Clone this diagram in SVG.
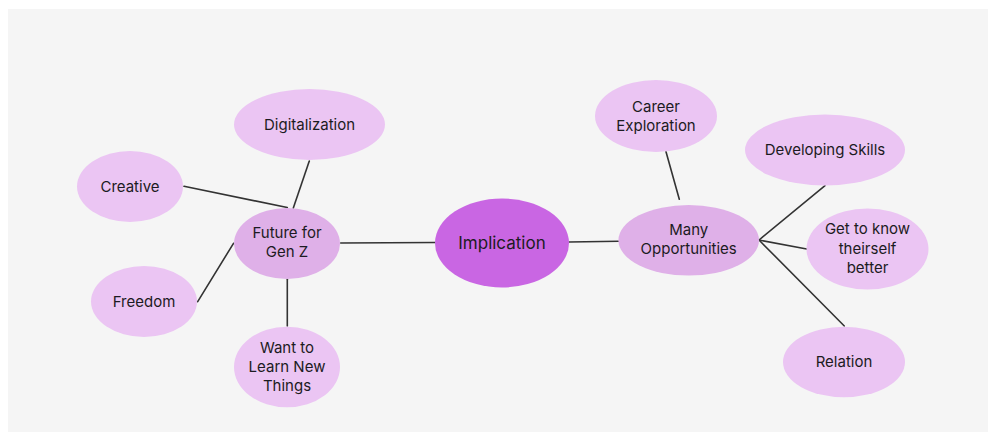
<svg xmlns="http://www.w3.org/2000/svg" width="988" height="433" viewBox="0 0 988 433">
<style>
.leaf{fill:#ebc5f3}
.mid{fill:#dfb0e8}
.root{fill:#c966e3}
text{font-family:Inter,"Liberation Sans",sans-serif;font-size:15px;fill:#1c1b22;text-anchor:middle}
.big{font-size:17px}
.conn line{stroke:#333;stroke-width:1.6;stroke-linecap:round}
</style>
<rect x="0" y="0" width="988" height="433" fill="#ffffff"/>
<rect x="8" y="9" width="980" height="423" fill="#f5f5f5"/>
<g id="connectors" class="conn">
<line x1="184" y1="186.3" x2="287.3" y2="207.5"/>
<line x1="309.3" y1="161" x2="293.3" y2="208"/>
<line x1="197.7" y1="301.7" x2="233.5" y2="243.3"/>
<line x1="287.3" y1="279.3" x2="287.3" y2="326"/>
<line x1="340.7" y1="243" x2="435" y2="242.5"/>
<line x1="569" y1="242" x2="618.5" y2="241.3"/>
<line x1="666" y1="151.7" x2="679.3" y2="199.3"/>
<line x1="759" y1="240" x2="825" y2="185.7"/>
<line x1="759" y1="240" x2="806.7" y2="249"/>
<line x1="759" y1="240" x2="844.3" y2="326"/>
</g>
<g id="implication">
<ellipse class="root" cx="502" cy="243" rx="67" ry="44.5"/>
<text class="big" x="502" y="248.5">Implication</text>
</g>
<g id="future">
<ellipse class="mid" cx="287" cy="243.5" rx="53" ry="35.5"/>
<text x="287" y="238.3">Future for</text>
<text x="287" y="257.3">Gen Z</text>
</g>
<g id="digitalization">
<ellipse class="leaf" cx="309.5" cy="124.5" rx="75.5" ry="35.5"/>
<text x="309.5" y="129.5">Digitalization</text>
</g>
<g id="creative">
<ellipse class="leaf" cx="130" cy="186.5" rx="53" ry="35.5"/>
<text x="130" y="191.7">Creative</text>
</g>
<g id="freedom">
<ellipse class="leaf" cx="144" cy="301.5" rx="53" ry="35.5"/>
<text x="144" y="306.5">Freedom</text>
</g>
<g id="learn">
<ellipse class="leaf" cx="287" cy="367" rx="53" ry="40.3"/>
<text x="287" y="352.7">Want to</text>
<text x="287" y="371.7">Learn New</text>
<text x="287" y="390.8">Things</text>
</g>
<g id="opportunities">
<ellipse class="mid" cx="688.7" cy="240.3" rx="70.3" ry="35.3"/>
<text x="688.7" y="235.3">Many</text>
<text x="688.7" y="254.3">Opportunities</text>
</g>
<g id="career">
<ellipse class="leaf" cx="656" cy="116" rx="61" ry="36"/>
<text x="656" y="111.7">Career</text>
<text x="656" y="131">Exploration</text>
</g>
<g id="skills">
<ellipse class="leaf" cx="825" cy="150" rx="80" ry="35.5"/>
<text x="825" y="155">Developing Skills</text>
</g>
<g id="know">
<ellipse class="leaf" cx="867.5" cy="249" rx="61" ry="40.5"/>
<text x="867.5" y="234.3">Get to know</text>
<text x="867.5" y="253.5">theirself</text>
<text x="867.5" y="272.7">better</text>
</g>
<g id="relation">
<ellipse class="leaf" cx="844" cy="362" rx="61" ry="35.3"/>
<text x="844" y="366.7">Relation</text>
</g>
</svg>
